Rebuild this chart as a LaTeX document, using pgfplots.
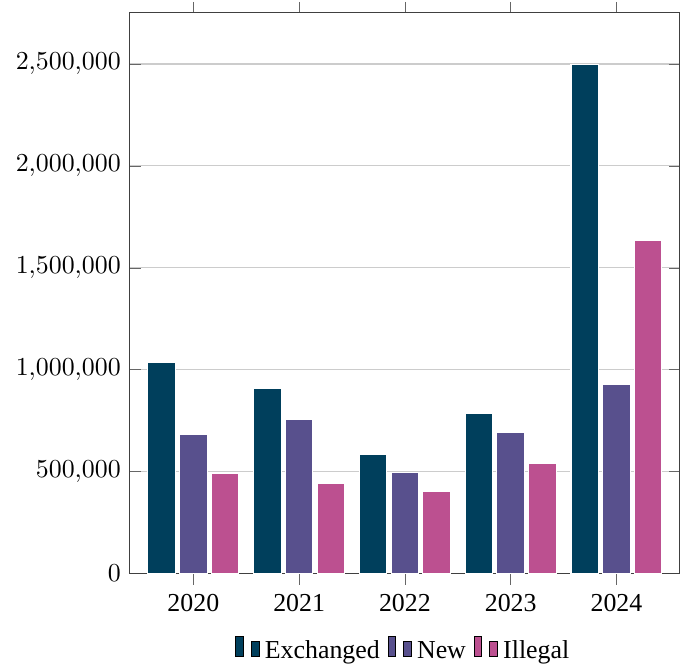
\documentclass[border=0pt]{standalone}
\usepackage{fontspec}
\setmainfont{Liberation Serif}
\usepackage{pgfplots}
\pgfplotsset{compat=1.18}
\definecolor{cEx}{HTML}{003F5C}
\definecolor{cNew}{HTML}{58508D}
\definecolor{cIll}{HTML}{BC5090}
\begin{document}
\begin{tikzpicture}
\begin{axis}[
  scale only axis,
  width=212.6pt, height=216.7pt,
  xmin=-0.6, xmax=4.6,
  ymin=0, ymax=2750000,
  xtick={0,1,2,3,4},
  xticklabels={2020,2021,2022,2023,2024},
  xtick align=outside,
  ytick={0,500000,1000000,1500000,2000000,2500000},
  scaled y ticks=false,
  yticklabel style={/pgf/number format/fixed, /pgf/number format/1000 sep={\mathord{,}}},
  ymajorgrids=true,
  grid style={gray!40, line width=0.5pt},
  axis line style={black!75},
  tick style={black!60},
  bar width=0.26,
  legend style={at={(0.5,-0.105)}, anchor=north, draw=none, fill=none,
    legend columns=-1, /tikz/every even column/.append style={column sep=1pt},
    font=\normalsize, inner sep=1pt},
  legend image code/.code={\draw[#1,draw=black,/tikz/.cd,bar width=3pt,yshift=-0.2em,bar shift=0pt] plot coordinates {(0cm,0.8em) (2*\pgfplotbarwidth,0.6em)};},
]
\addplot[ybar, bar shift=-0.3, fill=cEx, draw=white] coordinates {
  (0,1036000) (1,908000) (2,586000) (3,786000) (4,2497000)};
\addlegendentry{Exchanged}
\addplot[ybar, bar shift=0, fill=cNew, draw=white] coordinates {
  (0,681000) (1,758000) (2,496000) (3,690000) (4,928000)};
\addlegendentry{New}
\addplot[ybar, bar shift=0.3, fill=cIll, draw=white] coordinates {
  (0,493000) (1,444000) (2,401000) (3,540000) (4,1634000)};
\addlegendentry{Illegal}
\end{axis}
\pgfresetboundingbox
\path[use as bounding box] ([shift={(-50.2pt,-34.7pt)}]current axis.south west) rectangle ([shift={(0.4pt,5pt)}]current axis.north east);
\end{tikzpicture}
\end{document}
